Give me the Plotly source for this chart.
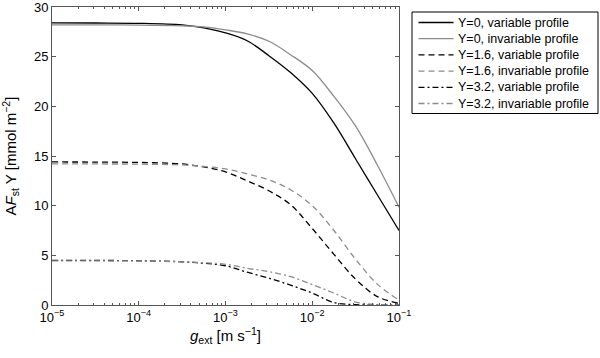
import plotly.graph_objects as go

log_g = [-5, -4.5, -4, -3.5, -3.25, -3, -2.75, -2.5, -2.25, -2, -1.75, -1.5, -1.25, -1]
g_ext = [10 ** v for v in log_g]

y0_var = [28.4, 28.39, 28.36, 28.2, 27.9, 27.4, 26.6, 25.1, 23.4, 21.3, 18.3, 14.7, 11.1, 7.5]
y0_inv = [28.2, 28.2, 28.18, 28.1, 28.0, 27.7, 27.3, 26.55, 25.2, 23.6, 21.0, 18.0, 14.1, 9.85]
y16_var = [14.4, 14.39, 14.35, 14.2, 13.9, 13.4, 12.5, 11.5, 10.1, 7.7, 5.1, 2.6, 0.85, 0.15]
y16_inv = [14.2, 14.2, 14.18, 14.1, 13.95, 13.7, 13.2, 12.6, 11.6, 10.0, 7.5, 4.6, 2.1, 0.5]
y32_var = [4.5, 4.49, 4.45, 4.35, 4.2, 3.95, 3.3, 2.7, 2.0, 1.2, 0.25, 0.03, 0.0, 0.0]
y32_inv = [4.45, 4.45, 4.43, 4.35, 4.25, 4.1, 3.7, 3.35, 2.85, 2.05, 1.2, 0.3, 0.05, 0.0]

series_names = ["Y=0, variable profile", "Y=0, invariable profile",
                "Y=1.6, variable profile", "Y=1.6, invariable profile",
                "Y=3.2, variable profile", "Y=3.2, invariable profile"]
series_values = [y0_var, y0_inv, y16_var, y16_inv, y32_var, y32_inv]
series_colors = ["black", "#8c8c8c", "black", "#8c8c8c", "black", "#8c8c8c"]
series_dashes = ["solid", "solid", "6px,4px", "6px,4px", "6px,3px,2px,3px", "6px,3px,2px,3px"]

x_tickvals = [1e-5, 1e-4, 1e-3, 1e-2, 1e-1]
x_ticktext = ["10<sup>−5</sup>", "10<sup>−4</sup>", "10<sup>−3</sup>", "10<sup>−2</sup>", "10<sup>−1</sup>"]
minor_vals = [m * 10 ** e for e in range(-5, -1) for m in range(2, 10)]
y_tickvals = [0, 5, 10, 15, 20, 25, 30]

# layout geometry in page pixels (body margin removed below)
ML, MR, MT, MB = 52, 201, 7, 53
W, H = 600, 358
PW, PH = W - ML - MR, H - MT - MB


def px(sx):
    return (sx - ML) / PW


def py(sy):
    return (H - MB - sy) / PH


fig = go.Figure()
for name, ys, color, dash in zip(series_names, series_values, series_colors, series_dashes):
    fig.add_trace(go.Scatter(x=g_ext, y=ys, mode="lines", name=name, showlegend=False,
                             line=dict(color=color, dash=dash, width=1.3, shape="spline", smoothing=1.0)))

# manual legend (compact rows, as in the reference)
shapes = [dict(type="rect", xref="paper", yref="paper", x0=px(412), x1=px(598), y0=py(113.5), y1=py(12),
               line=dict(color="black", width=1), fillcolor="white", layer="above")]
annotations = []
for i, (name, color, dash) in enumerate(zip(series_names, series_colors, series_dashes)):
    ry = 22.5 + 16.2 * i
    shapes.append(dict(type="line", xref="paper", yref="paper", x0=px(418.5), x1=px(453.5),
                       y0=py(ry), y1=py(ry), line=dict(color=color, dash=dash, width=1.3), layer="above"))
    annotations.append(dict(xref="paper", yref="paper", x=px(455.5), y=py(ry), text=name, showarrow=False,
                            xanchor="left", yanchor="middle", font=dict(size=12.5, color="black")))

font_family = "Liberation Sans, Arial, sans-serif"
fig.update_layout(
    width=W, height=H,
    margin=dict(l=ML, r=MR, t=MT, b=MB),
    paper_bgcolor="white", plot_bgcolor="white",
    font=dict(family=font_family, size=13, color="black"),
    showlegend=False,
    hovermode=False,
    shapes=shapes,
    annotations=annotations,
    xaxis=dict(type="log", range=[-5, -1], tickvals=x_tickvals, ticktext=x_ticktext,
               automargin=False, ticklabeloverflow="allow",
               ticks="inside", ticklen=4, tickcolor="#555", showgrid=False, zeroline=False,
               showline=True, linecolor="#555", linewidth=1, mirror="ticks",
               minor=dict(tickvals=minor_vals, ticks="inside", ticklen=2, tickcolor="#555", showgrid=False),
               title=dict(text="<i>g</i><sub>ext</sub> [m s<sup>−1</sup>]", font=dict(size=15), standoff=6)),
    yaxis=dict(range=[0, 30.001], tickvals=y_tickvals, ticks="inside", ticklen=4, tickcolor="#555",
               automargin=False, ticklabeloverflow="allow",
               showgrid=False, zeroline=False, showline=True, linecolor="#555", linewidth=1,
               mirror="ticks",
               title=dict(text="A<i>F</i><sub>st</sub> Y [mmol m<sup>−2</sup>]", font=dict(size=15), standoff=13)),
)

fig.write_html("out.html", config={"displayModeBar": False},
               post_script="document.body.style.margin='0px';")
